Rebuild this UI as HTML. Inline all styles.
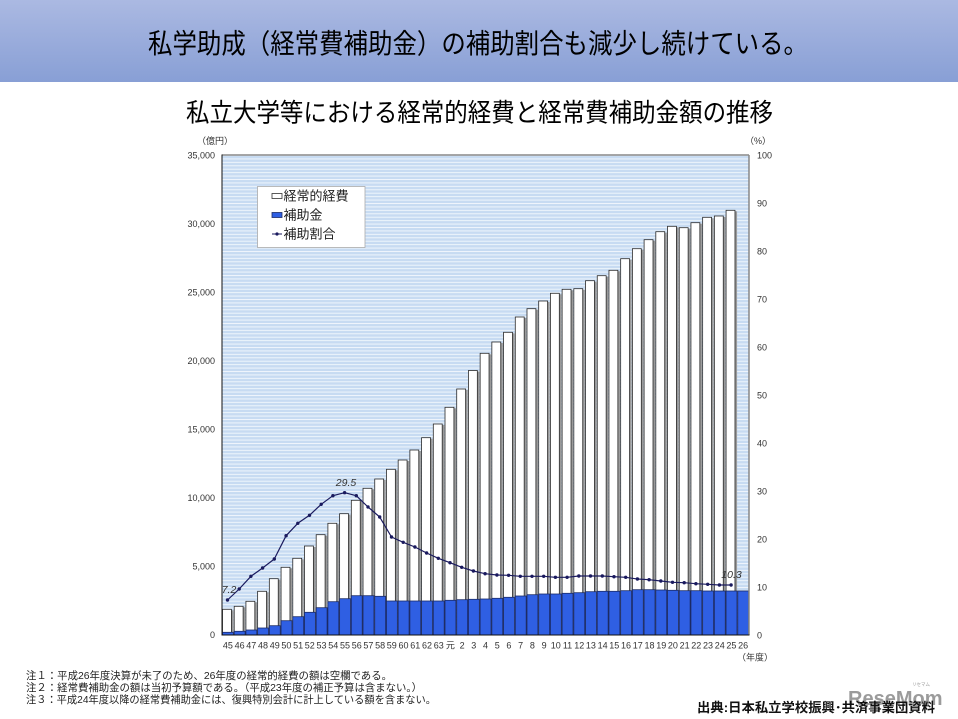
<!DOCTYPE html>
<html lang="ja">
<head>
<meta charset="utf-8">
<style>
  html,body{margin:0;padding:0;background:#fff;}
  body{width:958px;height:719px;overflow:hidden;}
  svg{display:block;}
  text{font-family:"Liberation Sans","Noto Sans CJK JP",sans-serif;fill:#222;}
  .ax{font-size:9px;fill:#333;}
  .w{fill:#fff;stroke:#2a2a2a;stroke-width:0.8;}
  .s{fill:#9a9a9a;}
  .b{fill:#2f5fe3;stroke:#1b2a66;stroke-width:0.8;}
</style>
</head>
<body>
<svg width="958" height="719" viewBox="0 0 958 719" xmlns="http://www.w3.org/2000/svg">
  <defs>
    <linearGradient id="ban" x1="0" y1="0" x2="0" y2="1">
      <stop offset="0" stop-color="#abb9e2"/>
      <stop offset="1" stop-color="#889fd5"/>
    </linearGradient>
    <pattern id="st" x="0" y="155" width="10" height="3.4286" patternUnits="userSpaceOnUse">
      <rect width="10" height="3.4286" fill="#c7dbf2"/>
      <rect width="10" height="1" fill="#eef5fc"/>
    </pattern>
    <marker id="mk" markerWidth="5" markerHeight="5" refX="2.5" refY="2.5" markerUnits="userSpaceOnUse">
      <circle cx="2.5" cy="2.5" r="1.7" fill="#1a1a5e"/>
    </marker>
  </defs>

  <!-- Banner -->
  <rect x="0" y="0" width="958" height="82" fill="url(#ban)"/>
  <g transform="translate(478,43) scale(1,1.12)">
    <text x="-330" y="9" font-size="24.4" textLength="660" lengthAdjust="spacingAndGlyphs" style="fill:#000">私学助成（経常費補助金）の補助割合も減少し続けている。</text>
  </g>

  <!-- Subtitle -->
  <g transform="translate(479.5,112) scale(1,1.1)">
    <text x="-293.5" y="8.5" font-size="23.4" textLength="587" lengthAdjust="spacingAndGlyphs" style="fill:#000">私立大学等における経常的経費と経常費補助金額の推移</text>
  </g>

  <!-- Plot background -->
  <rect x="222" y="155" width="527" height="480" fill="url(#st)"/>

  <!-- Bars: shadow, white (expenses), blue (subsidy) -->
  <g>
    <rect class="s" x="231.4" y="610.3" width="2.1" height="24.7"/><rect class="w" x="222.5" y="609.3" width="8.9" height="25.7"/><rect class="b" x="222.5" y="632.3" width="10.9" height="2.7"/>
    <rect class="s" x="243.11" y="607.3" width="2.1" height="27.7"/><rect class="w" x="234.21" y="606.3" width="8.9" height="28.7"/><rect class="b" x="234.21" y="631.3" width="10.9" height="3.7"/>
    <rect class="s" x="254.82" y="602.3" width="2.1" height="32.7"/><rect class="w" x="245.92" y="601.3" width="8.9" height="33.7"/><rect class="b" x="245.92" y="630" width="10.9" height="5"/>
    <rect class="s" x="266.53" y="592.3" width="2.1" height="42.7"/><rect class="w" x="257.63" y="591.3" width="8.9" height="43.7"/><rect class="b" x="257.63" y="628" width="10.9" height="7"/>
    <rect class="s" x="278.24" y="579.7" width="2.1" height="55.3"/><rect class="w" x="269.34" y="578.7" width="8.9" height="56.3"/><rect class="b" x="269.34" y="625.7" width="10.9" height="9.3"/>
    <rect class="s" x="289.96" y="568.3" width="2.1" height="66.7"/><rect class="w" x="281.06" y="567.3" width="8.9" height="67.7"/><rect class="b" x="281.06" y="620.7" width="10.9" height="14.3"/>
    <rect class="s" x="301.67" y="559.3" width="2.1" height="75.7"/><rect class="w" x="292.77" y="558.3" width="8.9" height="76.7"/><rect class="b" x="292.77" y="616.7" width="10.9" height="18.3"/>
    <rect class="s" x="313.38" y="547" width="2.1" height="88"/><rect class="w" x="304.48" y="546" width="8.9" height="89"/><rect class="b" x="304.48" y="612.3" width="10.9" height="22.7"/>
    <rect class="s" x="325.09" y="535.7" width="2.1" height="99.3"/><rect class="w" x="316.19" y="534.7" width="8.9" height="100.3"/><rect class="b" x="316.19" y="607.7" width="10.9" height="27.3"/>
    <rect class="s" x="336.8" y="524.3" width="2.1" height="110.7"/><rect class="w" x="327.9" y="523.3" width="8.9" height="111.7"/><rect class="b" x="327.9" y="601.7" width="10.9" height="33.3"/>
    <rect class="s" x="348.51" y="514.7" width="2.1" height="120.3"/><rect class="w" x="339.61" y="513.7" width="8.9" height="121.3"/><rect class="b" x="339.61" y="598.7" width="10.9" height="36.3"/>
    <rect class="s" x="360.22" y="501.3" width="2.1" height="133.7"/><rect class="w" x="351.32" y="500.3" width="8.9" height="134.7"/><rect class="b" x="351.32" y="595.7" width="10.9" height="39.3"/>
    <rect class="s" x="371.93" y="489.3" width="2.1" height="145.7"/><rect class="w" x="363.03" y="488.3" width="8.9" height="146.7"/><rect class="b" x="363.03" y="595.7" width="10.9" height="39.3"/>
    <rect class="s" x="383.64" y="480" width="2.1" height="155"/><rect class="w" x="374.74" y="479" width="8.9" height="156"/><rect class="b" x="374.74" y="596.3" width="10.9" height="38.7"/>
    <rect class="s" x="395.35" y="470.3" width="2.1" height="164.7"/><rect class="w" x="386.45" y="469.3" width="8.9" height="165.7"/><rect class="b" x="386.45" y="601" width="10.9" height="34"/>
    <rect class="s" x="407.07" y="461" width="2.1" height="174"/><rect class="w" x="398.17" y="460" width="8.9" height="175"/><rect class="b" x="398.17" y="601" width="10.9" height="34"/>
    <rect class="s" x="418.78" y="451" width="2.1" height="184"/><rect class="w" x="409.88" y="450" width="8.9" height="185"/><rect class="b" x="409.88" y="601" width="10.9" height="34"/>
    <rect class="s" x="430.49" y="438.7" width="2.1" height="196.3"/><rect class="w" x="421.59" y="437.7" width="8.9" height="197.3"/><rect class="b" x="421.59" y="601" width="10.9" height="34"/>
    <rect class="s" x="442.2" y="425" width="2.1" height="210"/><rect class="w" x="433.3" y="424" width="8.9" height="211"/><rect class="b" x="433.3" y="601" width="10.9" height="34"/>
    <rect class="s" x="453.91" y="408.3" width="2.1" height="226.7"/><rect class="w" x="445.01" y="407.3" width="8.9" height="227.7"/><rect class="b" x="445.01" y="600.3" width="10.9" height="34.7"/>
    <rect class="s" x="465.62" y="390" width="2.1" height="245"/><rect class="w" x="456.72" y="389" width="8.9" height="246"/><rect class="b" x="456.72" y="599.7" width="10.9" height="35.3"/>
    <rect class="s" x="477.33" y="371.5" width="2.1" height="263.5"/><rect class="w" x="468.43" y="370.5" width="8.9" height="264.5"/><rect class="b" x="468.43" y="599.3" width="10.9" height="35.7"/>
    <rect class="s" x="489.04" y="354.3" width="2.1" height="280.7"/><rect class="w" x="480.14" y="353.3" width="8.9" height="281.7"/><rect class="b" x="480.14" y="599" width="10.9" height="36"/>
    <rect class="s" x="500.75" y="343" width="2.1" height="292"/><rect class="w" x="491.85" y="342" width="8.9" height="293"/><rect class="b" x="491.85" y="598.3" width="10.9" height="36.7"/>
    <rect class="s" x="512.46" y="333.3" width="2.1" height="301.7"/><rect class="w" x="503.56" y="332.3" width="8.9" height="302.7"/><rect class="b" x="503.56" y="597.3" width="10.9" height="37.7"/>
    <rect class="s" x="524.18" y="318" width="2.1" height="317"/><rect class="w" x="515.28" y="317" width="8.9" height="318"/><rect class="b" x="515.28" y="596" width="10.9" height="39"/>
    <rect class="s" x="535.89" y="309.7" width="2.1" height="325.3"/><rect class="w" x="526.99" y="308.7" width="8.9" height="326.3"/><rect class="b" x="526.99" y="594.7" width="10.9" height="40.3"/>
    <rect class="s" x="547.6" y="302" width="2.1" height="333"/><rect class="w" x="538.7" y="301" width="8.9" height="334"/><rect class="b" x="538.7" y="594" width="10.9" height="41"/>
    <rect class="s" x="559.31" y="294.3" width="2.1" height="340.7"/><rect class="w" x="550.41" y="293.3" width="8.9" height="341.7"/><rect class="b" x="550.41" y="594" width="10.9" height="41"/>
    <rect class="s" x="571.02" y="290.3" width="2.1" height="344.7"/><rect class="w" x="562.12" y="289.3" width="8.9" height="345.7"/><rect class="b" x="562.12" y="593.3" width="10.9" height="41.7"/>
    <rect class="s" x="582.73" y="289.7" width="2.1" height="345.3"/><rect class="w" x="573.83" y="288.7" width="8.9" height="346.3"/><rect class="b" x="573.83" y="592.7" width="10.9" height="42.3"/>
    <rect class="s" x="594.44" y="281.7" width="2.1" height="353.3"/><rect class="w" x="585.54" y="280.7" width="8.9" height="354.3"/><rect class="b" x="585.54" y="591.7" width="10.9" height="43.3"/>
    <rect class="s" x="606.15" y="276.7" width="2.1" height="358.3"/><rect class="w" x="597.25" y="275.7" width="8.9" height="359.3"/><rect class="b" x="597.25" y="591.3" width="10.9" height="43.7"/>
    <rect class="s" x="617.86" y="271.3" width="2.1" height="363.7"/><rect class="w" x="608.96" y="270.3" width="8.9" height="364.7"/><rect class="b" x="608.96" y="591.3" width="10.9" height="43.7"/>
    <rect class="s" x="629.57" y="259.7" width="2.1" height="375.3"/><rect class="w" x="620.67" y="258.7" width="8.9" height="376.3"/><rect class="b" x="620.67" y="590.7" width="10.9" height="44.3"/>
    <rect class="s" x="641.29" y="249.7" width="2.1" height="385.3"/><rect class="w" x="632.39" y="248.7" width="8.9" height="386.3"/><rect class="b" x="632.39" y="589.7" width="10.9" height="45.3"/>
    <rect class="s" x="653" y="240.7" width="2.1" height="394.3"/><rect class="w" x="644.1" y="239.7" width="8.9" height="395.3"/><rect class="b" x="644.1" y="589.7" width="10.9" height="45.3"/>
    <rect class="s" x="664.71" y="232.7" width="2.1" height="402.3"/><rect class="w" x="655.81" y="231.7" width="8.9" height="403.3"/><rect class="b" x="655.81" y="590" width="10.9" height="45"/>
    <rect class="s" x="676.42" y="227.3" width="2.1" height="407.7"/><rect class="w" x="667.52" y="226.3" width="8.9" height="408.7"/><rect class="b" x="667.52" y="590.3" width="10.9" height="44.7"/>
    <rect class="s" x="688.13" y="228.7" width="2.1" height="406.3"/><rect class="w" x="679.23" y="227.7" width="8.9" height="407.3"/><rect class="b" x="679.23" y="590.7" width="10.9" height="44.3"/>
    <rect class="s" x="699.84" y="223.7" width="2.1" height="411.3"/><rect class="w" x="690.94" y="222.7" width="8.9" height="412.3"/><rect class="b" x="690.94" y="590.7" width="10.9" height="44.3"/>
    <rect class="s" x="711.55" y="218.3" width="2.1" height="416.7"/><rect class="w" x="702.65" y="217.3" width="8.9" height="417.7"/><rect class="b" x="702.65" y="591" width="10.9" height="44"/>
    <rect class="s" x="723.26" y="217" width="2.1" height="418"/><rect class="w" x="714.36" y="216" width="8.9" height="419"/><rect class="b" x="714.36" y="591" width="10.9" height="44"/>
    <rect class="s" x="734.97" y="211.3" width="2.1" height="423.7"/><rect class="w" x="726.07" y="210.3" width="8.9" height="424.7"/><rect class="b" x="726.07" y="591" width="10.9" height="44"/>
    <rect class="b" x="737.78" y="591" width="10.9" height="44"/>
  </g>

  <!-- Ratio line -->
  <polyline fill="none" stroke="#1a1a5e" stroke-width="1.2" stroke-linejoin="round"
    marker-start="url(#mk)" marker-mid="url(#mk)" marker-end="url(#mk)"
    points="227.5,600 239.2,589 250.9,576.3 262.6,568 274.3,559 286.1,535.7 297.8,523.3 309.5,515.3 321.2,504.3 332.9,495.7 344.6,492.7 356.3,495.7 368,507 379.7,517 391.5,537 403.2,542.3 414.9,547 426.6,553 438.3,558.3 450,562.7 461.7,567.3 473.4,571 485.1,573.7 496.9,575 508.6,575.3 520.3,576.3 532,576.3 543.7,576.3 555.4,577.3 567.1,577.3 578.8,576 590.5,576 602.3,576 614,576.7 625.7,577.3 637.4,579 649.1,579.7 660.8,581 672.5,582.3 684.2,582.7 695.9,583.7 707.7,584.3 719.4,585 731.1,585"/>

  <!-- Data labels -->
  <text x="229" y="593" font-size="10.5" font-style="italic" text-anchor="middle" style="fill:#333">7.2</text>
  <text x="346" y="486" font-size="10.5" font-style="italic" text-anchor="middle" style="fill:#333">29.5</text>
  <text x="731.5" y="578" font-size="10.5" font-style="italic" text-anchor="middle" style="fill:#333">10.3</text>

  <!-- Plot borders -->
  <line x1="222" y1="155" x2="749" y2="155" stroke="#888" stroke-width="1.5"/>
  <line x1="749" y1="155" x2="749" y2="635" stroke="#888" stroke-width="1.5"/>
  <line x1="222" y1="154.5" x2="222" y2="635.5" stroke="#111" stroke-width="1"/>
  <line x1="221.5" y1="635" x2="749.5" y2="635" stroke="#111" stroke-width="1"/>

  <!-- Legend -->
  <rect x="257.5" y="186.5" width="107.5" height="61" fill="#fff" stroke="#aaa" stroke-width="0.8"/>
  <rect x="272" y="193.5" width="10" height="5" fill="#fff" stroke="#333" stroke-width="0.8"/>
  <text x="283.5" y="200.5" font-size="13" style="fill:#222">経常的経費</text>
  <rect x="272" y="212.5" width="10" height="5" class="b"/>
  <text x="283.5" y="219.5" font-size="13" style="fill:#222">補助金</text>
  <line x1="272" y1="234" x2="282" y2="234" stroke="#1a1a5e" stroke-width="1"/>
  <circle cx="277" cy="234" r="1.6" fill="#1a1a5e"/>
  <text x="283.5" y="238.5" font-size="13" style="fill:#222">補助割合</text>

  <!-- Left axis labels -->
  <text class="ax" x="215" y="144" font-size="10" text-anchor="middle">（億円）</text>
  <text class="ax" x="215" y="158.5" text-anchor="end">35,000</text>
  <text class="ax" x="215" y="227" text-anchor="end">30,000</text>
  <text class="ax" x="215" y="295.5" text-anchor="end">25,000</text>
  <text class="ax" x="215" y="364" text-anchor="end">20,000</text>
  <text class="ax" x="215" y="432.5" text-anchor="end">15,000</text>
  <text class="ax" x="215" y="501" text-anchor="end">10,000</text>
  <text class="ax" x="215" y="569.5" text-anchor="end">5,000</text>
  <text class="ax" x="215" y="638" text-anchor="end">0</text>

  <!-- Right axis labels -->
  <text class="ax" x="758" y="144" font-size="10" text-anchor="middle">（%）</text>
  <text class="ax" x="757" y="158.5">100</text>
  <text class="ax" x="757" y="206.5">90</text>
  <text class="ax" x="757" y="254.5">80</text>
  <text class="ax" x="757" y="302.5">70</text>
  <text class="ax" x="757" y="350.5">60</text>
  <text class="ax" x="757" y="398.5">50</text>
  <text class="ax" x="757" y="446.5">40</text>
  <text class="ax" x="757" y="494.5">30</text>
  <text class="ax" x="757" y="542.5">20</text>
  <text class="ax" x="757" y="590.5">10</text>
  <text class="ax" x="757" y="638.5">0</text>

  <!-- X axis labels -->
  <text class="ax" x="227.9" y="648.5" text-anchor="middle">45</text>
  <text class="ax" x="239.6" y="648.5" text-anchor="middle">46</text>
  <text class="ax" x="251.3" y="648.5" text-anchor="middle">47</text>
  <text class="ax" x="263" y="648.5" text-anchor="middle">48</text>
  <text class="ax" x="274.7" y="648.5" text-anchor="middle">49</text>
  <text class="ax" x="286.4" y="648.5" text-anchor="middle">50</text>
  <text class="ax" x="298.1" y="648.5" text-anchor="middle">51</text>
  <text class="ax" x="309.8" y="648.5" text-anchor="middle">52</text>
  <text class="ax" x="321.5" y="648.5" text-anchor="middle">53</text>
  <text class="ax" x="333.3" y="648.5" text-anchor="middle">54</text>
  <text class="ax" x="345" y="648.5" text-anchor="middle">55</text>
  <text class="ax" x="356.7" y="648.5" text-anchor="middle">56</text>
  <text class="ax" x="368.4" y="648.5" text-anchor="middle">57</text>
  <text class="ax" x="380.1" y="648.5" text-anchor="middle">58</text>
  <text class="ax" x="391.8" y="648.5" text-anchor="middle">59</text>
  <text class="ax" x="403.5" y="648.5" text-anchor="middle">60</text>
  <text class="ax" x="415.2" y="648.5" text-anchor="middle">61</text>
  <text class="ax" x="427" y="648.5" text-anchor="middle">62</text>
  <text class="ax" x="438.7" y="648.5" text-anchor="middle">63</text>
  <text class="ax" x="450.4" y="648.5" text-anchor="middle">元</text>
  <text class="ax" x="462.1" y="648.5" text-anchor="middle">2</text>
  <text class="ax" x="473.8" y="648.5" text-anchor="middle">3</text>
  <text class="ax" x="485.5" y="648.5" text-anchor="middle">4</text>
  <text class="ax" x="497.2" y="648.5" text-anchor="middle">5</text>
  <text class="ax" x="508.9" y="648.5" text-anchor="middle">6</text>
  <text class="ax" x="520.6" y="648.5" text-anchor="middle">7</text>
  <text class="ax" x="532.4" y="648.5" text-anchor="middle">8</text>
  <text class="ax" x="544.1" y="648.5" text-anchor="middle">9</text>
  <text class="ax" x="555.8" y="648.5" text-anchor="middle">10</text>
  <text class="ax" x="567.5" y="648.5" text-anchor="middle">11</text>
  <text class="ax" x="579.2" y="648.5" text-anchor="middle">12</text>
  <text class="ax" x="590.9" y="648.5" text-anchor="middle">13</text>
  <text class="ax" x="602.6" y="648.5" text-anchor="middle">14</text>
  <text class="ax" x="614.3" y="648.5" text-anchor="middle">15</text>
  <text class="ax" x="626" y="648.5" text-anchor="middle">16</text>
  <text class="ax" x="637.7" y="648.5" text-anchor="middle">17</text>
  <text class="ax" x="649.5" y="648.5" text-anchor="middle">18</text>
  <text class="ax" x="661.2" y="648.5" text-anchor="middle">19</text>
  <text class="ax" x="672.9" y="648.5" text-anchor="middle">20</text>
  <text class="ax" x="684.6" y="648.5" text-anchor="middle">21</text>
  <text class="ax" x="696.3" y="648.5" text-anchor="middle">22</text>
  <text class="ax" x="708" y="648.5" text-anchor="middle">23</text>
  <text class="ax" x="719.7" y="648.5" text-anchor="middle">24</text>
  <text class="ax" x="731.4" y="648.5" text-anchor="middle">25</text>
  <text class="ax" x="743.1" y="648.5" text-anchor="middle">26</text>
  <text class="ax" x="755" y="660.5" font-size="10" text-anchor="middle">（年度）</text>

  <!-- Notes -->
  <text x="26" y="679" font-size="10.5" textLength="366" lengthAdjust="spacingAndGlyphs" style="fill:#222">注１：平成26年度決算が未了のため、26年度の経常的経費の額は空欄である。</text>
  <text x="26" y="691" font-size="10.5" textLength="396" lengthAdjust="spacingAndGlyphs" style="fill:#222">注２：経常費補助金の額は当初予算額である。（平成23年度の補正予算は含まない。）</text>
  <text x="26" y="703" font-size="10.5" textLength="410" lengthAdjust="spacingAndGlyphs" style="fill:#222">注３：平成24年度以降の経常費補助金には、復興特別会計に計上している額を含まない。</text>

  <!-- Logo watermark -->
  <text x="848" y="705" font-size="20" font-weight="bold" style="fill:#8a8a8a;opacity:0.85">ReseMom</text>
  <text x="912" y="686" font-size="4.5" style="fill:#999">リセマム</text>

  <!-- Source -->
  <text x="697" y="712" font-size="13" font-weight="bold" textLength="238" lengthAdjust="spacingAndGlyphs" style="fill:#111">出典:日本私立学校振興･共済事業団資料</text>
</svg>
</body>
</html>
